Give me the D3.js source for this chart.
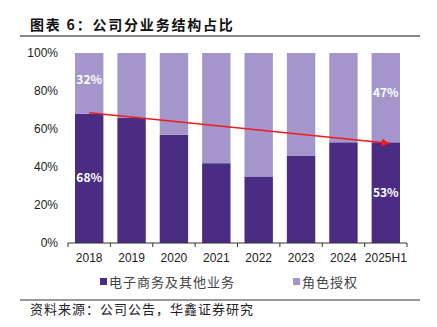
<!DOCTYPE html>
<html>
<head>
<meta charset="utf-8">
<script src="https://cdn.jsdelivr.net/npm/d3@7"></script>
<style>
  body { margin: 0; background: #fff; }
  svg { display: block; font-family: "Noto Sans CJK SC", "Noto Sans", sans-serif; }
</style>
</head>
<body>
<svg id="chart" width="437" height="327"></svg>
<script>
// data
const years = ["2018", "2019", "2020", "2021", "2022", "2023", "2024", "2025H1"];
const ecommerce = [68, 66, 57, 42, 35, 46, 53, 53];
const licensing = [32, 34, 43, 58, 65, 54, 47, 47];
const seriesNames = ["电子商务及其他业务", "角色授权"];
const yTicks = [0, 20, 40, 60, 80, 100];

const colors = ["#4a2c82", "#a496cb"];

const svg = d3.select("#chart");
const x0 = 68, x1 = 407, yTop = 53, yBot = 243;

const x = d3.scaleBand().domain(years).range([x0, x1]).paddingInner(0.33).paddingOuter(0.165);
const y = d3.scaleLinear().domain([0, 100]).range([yBot, yTop]);

// title
svg.append("text")
    .attr("x", 30).attr("y", 30)
    .attr("font-size", 14).attr("font-weight", "bold").attr("fill", "#111")
    .attr("letter-spacing", 1.8)
    .text("图表 6：公司分业务结构占比");
svg.append("line")
    .attr("x1", 20).attr("x2", 420).attr("y1", 36).attr("y2", 36)
    .attr("stroke", "#888").attr("stroke-width", 2);

// bars
const rows = years.map((yr, i) => ({ year: yr, a: ecommerce[i], b: licensing[i] }));
const g = svg.append("g");
g.selectAll("rect.a").data(rows).join("rect")
    .attr("class", "a")
    .attr("x", d => x(d.year)).attr("width", x.bandwidth())
    .attr("y", d => y(d.a)).attr("height", d => y(0) - y(d.a))
    .attr("fill", colors[0]);
g.selectAll("rect.b").data(rows).join("rect")
    .attr("class", "b")
    .attr("x", d => x(d.year)).attr("width", x.bandwidth())
    .attr("y", d => y(d.a + d.b)).attr("height", d => y(d.a) - y(d.a + d.b))
    .attr("fill", colors[1]);

// value labels for first and last bars
const labelled = [rows[0], rows[rows.length - 1]];
labelled.forEach(d => {
    const cx = x(d.year) + x.bandwidth() / 2;
    svg.append("text").attr("x", cx).attr("y", y(d.a / 2) + 4)
        .attr("text-anchor", "middle").attr("font-size", 12).attr("font-weight", "bold")
        .attr("fill", "#fff").text(d.a + "%");
    svg.append("text").attr("x", cx).attr("y", y(d.a + d.b * 0.55) + 4)
        .attr("text-anchor", "middle").attr("font-size", 12).attr("font-weight", "bold")
        .attr("fill", "#fff").text(d.b + "%");
});

// trend arrow
svg.append("defs").append("marker")
    .attr("id", "arrow").attr("viewBox", "0 0 10 10")
    .attr("refX", 9).attr("refY", 5)
    .attr("markerWidth", 6).attr("markerHeight", 5)
    .attr("orient", "auto")
    .append("path").attr("d", "M0,0 L10,5 L0,10 z").attr("fill", "#ee1c1c");
const first = rows[0], last = rows[rows.length - 1];
svg.append("line")
    .attr("x1", x(first.year) + x.bandwidth() / 2).attr("y1", y(first.a) - 1)
    .attr("x2", x(last.year) + x.bandwidth() / 2 + 3).attr("y2", y(last.a) + 1)
    .attr("stroke", "#ee1c1c").attr("stroke-width", 1.6)
    .attr("marker-end", "url(#arrow)");

// x axis
const xAxis = svg.append("g").attr("transform", `translate(0,${yBot})`);
xAxis.append("line").attr("x1", x0).attr("x2", x1).attr("stroke", "#333");
const edges = years.map(yr => x(yr) - x.step() * x.paddingInner() / 2).concat([x1]);
xAxis.selectAll("line.tick").data(edges).join("line")
    .attr("class", "tick")
    .attr("x1", d => d).attr("x2", d => d).attr("y1", 0).attr("y2", 4)
    .attr("stroke", "#333");
xAxis.selectAll("text").data(years).join("text")
    .attr("x", d => x(d) + x.bandwidth() / 2).attr("y", 19)
    .attr("text-anchor", "middle").attr("font-size", 12).attr("fill", "#222")
    .attr("font-family", "Liberation Sans, Arial, sans-serif")
    .text(d => d);

// y axis labels
svg.append("g").selectAll("text").data(yTicks).join("text")
    .attr("x", 58).attr("y", d => y(d) + 4)
    .attr("text-anchor", "end").attr("font-size", 12).attr("fill", "#222")
    .attr("font-family", "Liberation Sans, Arial, sans-serif")
    .text(d => d + "%");

// legend
const legendX = [100, 293];
seriesNames.forEach((name, i) => {
    svg.append("rect").attr("x", legendX[i]).attr("y", 278).attr("width", 7).attr("height", 7)
        .attr("fill", colors[i]);
    svg.append("text").attr("x", legendX[i] + 9).attr("y", 287)
        .attr("font-size", 13).attr("fill", "#444").attr("letter-spacing", 1)
        .text(name);
});

// source
svg.append("line")
    .attr("x1", 20).attr("x2", 420).attr("y1", 300).attr("y2", 300)
    .attr("stroke", "#333").attr("stroke-width", 1);
svg.append("text")
    .attr("x", 30).attr("y", 314)
    .attr("font-size", 13).attr("fill", "#222").attr("letter-spacing", 1)
    .text("资料来源：公司公告，华鑫证券研究");
</script>
</body>
</html>
